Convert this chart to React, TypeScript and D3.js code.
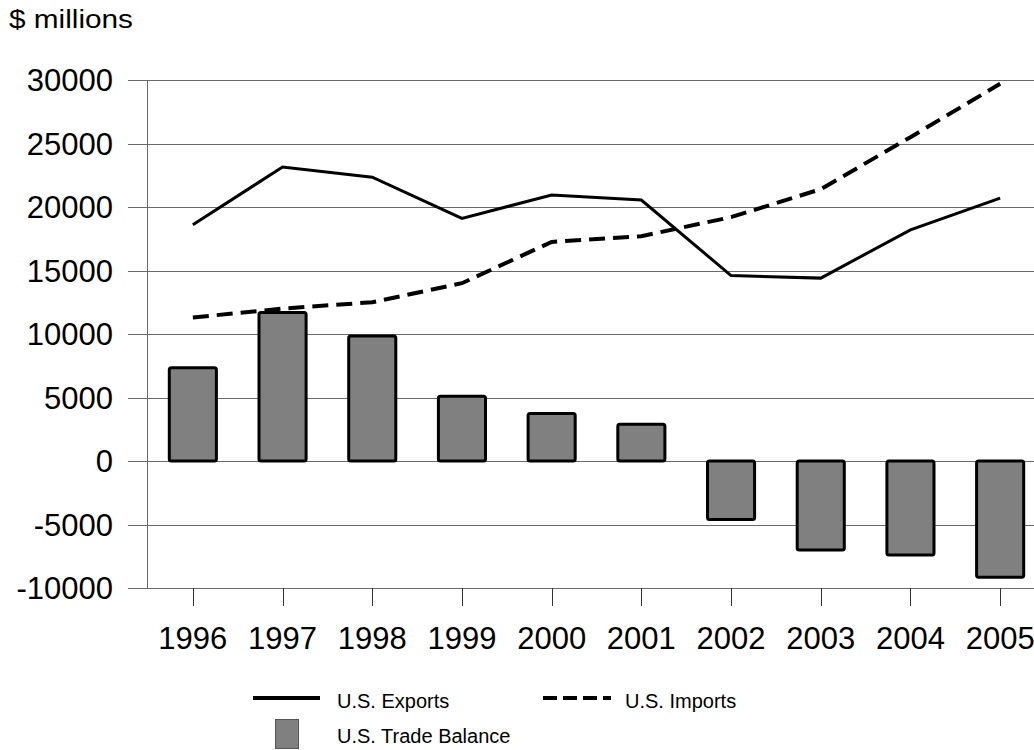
import React, { useEffect, useRef } from 'react';
import * as d3 from 'd3';

const years = ['1996', '1997', '1998', '1999', '2000', '2001', '2002', '2003', '2004', '2005'];
const exportsValues = [18600, 23150, 22350, 19100, 20950, 20550, 14600, 14400, 18200, 20700];
const importsValues = [11300, 12000, 12500, 14000, 17250, 17700, 19200, 21400, 25500, 29700];
const balanceValues = [7350, 11700, 9850, 5100, 3750, 2900, -4600, -7000, -7400, -9150];
const yTicks = [-10000, -5000, 0, 5000, 10000, 15000, 20000, 25000, 30000];

const FONT = "'Liberation Sans', Arial, sans-serif";

export default function App() {
  const svgRef = useRef<SVGSVGElement>(null);

  useEffect(() => {
    if (!svgRef.current) return;
    const width = 1034;
    const height = 750;
    const margin = { top: 80, left: 147, bottom: 162 };

    const svg = d3.select(svgRef.current);
    svg.selectAll('*').remove();

    const x = d3.scalePoint<string>()
      .domain(years)
      .range([148, 1045])
      .padding(0.5);

    const y = d3.scaleLinear()
      .domain([-10000, 30000])
      .range([height - margin.bottom, margin.top]);

    const barWidth = x.step() * 0.525;

    // grid lines
    svg.append('g')
      .selectAll('line')
      .data(yTicks)
      .enter()
      .append('line')
      .attr('x1', 128)
      .attr('x2', width)
      .attr('y1', d => Math.round(y(d)) + 0.5)
      .attr('y2', d => Math.round(y(d)) + 0.5)
      .attr('stroke', '#6a6a6a')
      .attr('stroke-width', 1);

    // y axis line
    svg.append('line')
      .attr('x1', margin.left + 0.5)
      .attr('x2', margin.left + 0.5)
      .attr('y1', y(30000))
      .attr('y2', y(-10000))
      .attr('stroke', '#6a6a6a');

    // y labels
    svg.append('g')
      .selectAll('text')
      .data(yTicks)
      .enter()
      .append('text')
      .attr('x', 113)
      .attr('y', d => y(d))
      .attr('dy', '0.36em')
      .attr('text-anchor', 'end')
      .style('font-family', FONT)
      .style('font-size', '31px')
      .style('fill', '#000')
      .text(d => String(d));

    // x ticks
    svg.append('g')
      .selectAll('line')
      .data(years)
      .enter()
      .append('line')
      .attr('x1', d => Math.round(x(d)!) + 0.5)
      .attr('x2', d => Math.round(x(d)!) + 0.5)
      .attr('y1', y(-10000))
      .attr('y2', y(-10000) + 18)
      .attr('stroke', '#333');

    svg.append('g')
      .selectAll('text')
      .data(years)
      .enter()
      .append('text')
      .attr('x', d => x(d)!)
      .attr('y', 649)
      .attr('text-anchor', 'middle')
      .style('font-family', FONT)
      .style('font-size', '31px')
      .style('fill', '#000')
      .text(d => d);

    // bars
    svg.append('g')
      .selectAll('rect')
      .data(balanceValues)
      .enter()
      .append('rect')
      .attr('x', (d, i) => x(years[i])! - barWidth / 2)
      .attr('y', d => y(Math.max(0, d)))
      .attr('width', barWidth)
      .attr('height', d => Math.abs(y(d) - y(0)))
      .attr('rx', 2)
      .attr('fill', '#808080')
      .attr('stroke', '#000')
      .attr('stroke-width', 3);

    const line = d3.line<number>()
      .x((d, i) => x(years[i])!)
      .y(d => y(d));

    svg.append('path')
      .datum(exportsValues)
      .attr('d', line)
      .attr('fill', 'none')
      .attr('stroke', '#000')
      .attr('stroke-width', 3);

    svg.append('path')
      .datum(importsValues)
      .attr('d', line)
      .attr('fill', 'none')
      .attr('stroke', '#000')
      .attr('stroke-width', 4)
      .attr('stroke-dasharray', '16,8');

    // title
    svg.append('text')
      .attr('x', 9)
      .attr('y', 28)
      .attr('textLength', 124)
      .attr('lengthAdjust', 'spacingAndGlyphs')
      .style('font-family', FONT)
      .style('font-size', '25px')
      .style('fill', '#000')
      .text('$ millions');

    // legend
    const lg = svg.append('g');
    lg.append('line')
      .attr('x1', 253).attr('x2', 320).attr('y1', 698).attr('y2', 698)
      .attr('stroke', '#000').attr('stroke-width', 4);
    lg.append('line')
      .attr('x1', 543).attr('x2', 611).attr('y1', 698).attr('y2', 698)
      .attr('stroke', '#000').attr('stroke-width', 4)
      .attr('stroke-dasharray', '14,6');
    lg.append('rect')
      .attr('x', 275.5).attr('y', 719.5).attr('width', 23).attr('height', 29)
      .attr('fill', '#808080').attr('stroke', '#555').attr('stroke-width', 1);

    const legendText = [
      { label: 'U.S. Exports', x: 337, y: 708 },
      { label: 'U.S. Imports', x: 625, y: 708 },
      { label: 'U.S. Trade Balance', x: 337, y: 743 },
    ];
    lg.selectAll('text.leg')
      .data(legendText)
      .enter()
      .append('text')
      .attr('class', 'leg')
      .attr('x', d => d.x)
      .attr('y', d => d.y)
      .style('font-family', FONT)
      .style('font-size', '20px')
      .style('fill', '#000')
      .text(d => d.label);
  }, []);

  return (
    <div style={{ position: 'absolute', left: 0, top: 0, width: 1034, height: 750, background: '#fff' }}>
      <svg ref={svgRef} width={1034} height={750} viewBox="0 0 1034 750" />
    </div>
  );
}
